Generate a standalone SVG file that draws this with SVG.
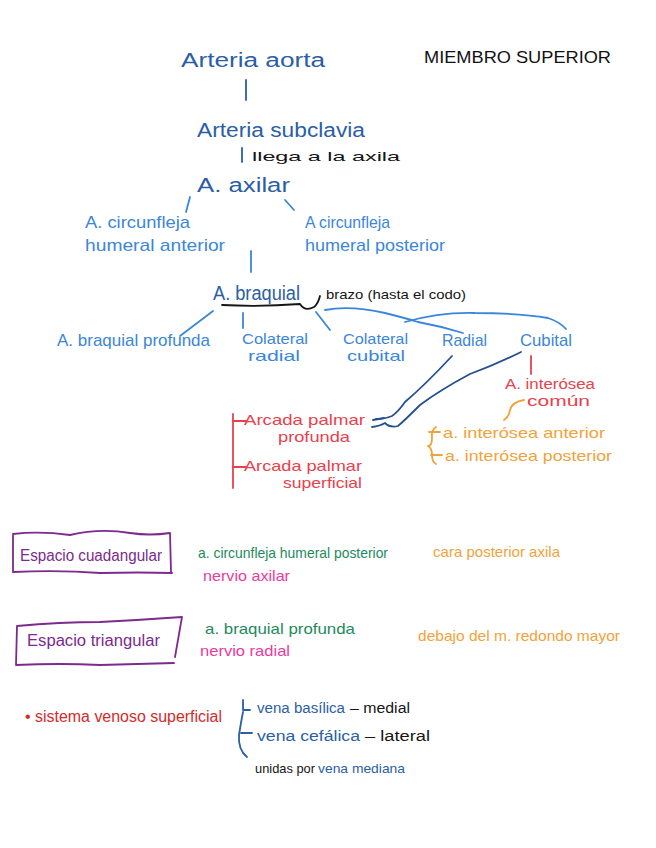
<svg xmlns="http://www.w3.org/2000/svg" width="656" height="848" viewBox="0 0 656 848">
<style>
text{font-family:"Liberation Sans","DejaVu Sans",sans-serif;}
.db{fill:#2b5ea6;font-size:20px;}
.bb{fill:#3a86dc;font-size:17px;}
.bs{fill:#3a86dc;font-size:15px;}
.bk{fill:#151515;font-size:13px;}
.rd{fill:#e8414c;font-size:15px;}
.rs{fill:#e8414c;font-size:14px;}
.or{fill:#f2a23a;font-size:15px;}
.gr{fill:#1d8a5c;font-size:15px;}
.mg{fill:#ec3aa0;font-size:15px;}
.pu{fill:#7d2a8e;font-size:16px;}
.ttl{fill:#111;font-size:17px;}
.l{fill:none;stroke-width:1.8;stroke-linecap:round;stroke-linejoin:round;}
.ldb{stroke:#2b5ea6;}
.lbb{stroke:#3a86dc;}
.lcon{stroke:#24508f;}
.lbk{stroke:#151515;}
.lrd{stroke:#e8414c;}
.lor{stroke:#f2a23a;}
.lpu{stroke:#7d2a8e;}
</style>
<rect width="656" height="848" fill="#ffffff"/>
<text class="ttl" x="424" y="63" textLength="187" lengthAdjust="spacingAndGlyphs">MIEMBRO SUPERIOR</text>

<g id="connectors">
  <path class="l ldb" d="M246 80 L246 100"/>
  <path class="l ldb" d="M242 148 L242 162"/>
  <path class="l lbb" d="M190 197 L186 212"/>
  <path class="l lbb" d="M285 200 L294 210"/>
  <path class="l lbb" d="M251 251 L251 272"/>
  <path class="l lbk" d="M222 305 Q260 307 300 304 Q305 312 314 307 Q318 304 320 296"/>
  <path class="l lbb" d="M213 311 L180 336"/>
  <path class="l lbb" d="M243 313 L243 328"/>
  <path class="l lbb" d="M316 312 L330 330"/>
  <path class="l lbb" d="M325 310 Q350 305 385 313 Q405 318 418 322 Q440 326 463 333"/>
  <path class="l lbb" d="M405 322 Q440 312 475 313 Q520 313 548 318 Q560 322 566 329"/>
  <path class="l lcon" d="M452 356 Q425 385 405 402 Q398 412 392 416 Q385 419 376 419"/>
  <path class="l lcon" d="M521 352 Q495 365 470 374 Q440 390 420 405 Q405 420 398 426 Q390 428 385 423 Q380 426 372 427"/>
  <path class="l lcon" d="M373 420 L384 418"/>
  <path class="l lrd" d="M531 356 L531 374"/>
  <path class="l lor" d="M524 400 Q512 402 510 410 Q509 417 504 420"/>
  <path class="l lor" d="M436 427 Q431 430 432 438 Q432 446 428 446 Q432 448 432 455 Q432 462 436 464"/>
  <path class="l lor" d="M429 432 L440 432"/>
  <path class="l lor" d="M431 455 L442 455"/>
  <path class="l lrd" d="M233 414 L233 488"/>
  <path class="l lrd" d="M233 421 L246 421"/>
  <path class="l lrd" d="M233 467 L246 467"/>
  <path class="l ldb" d="M243 700 L243 710 L250 710"/>
  <path class="l ldb" d="M243 712 Q241 722 239 735 Q238 750 247 757"/>
  <path class="l ldb" d="M241 733 L252 733"/>
</g>

<g id="aorta"><text class="db" x="181" y="67" textLength="144" lengthAdjust="spacingAndGlyphs">Arteria aorta</text></g>
<g id="subclavia"><text class="db" x="197" y="137" textLength="168" lengthAdjust="spacingAndGlyphs">Arteria subclavia</text>
<text class="bk" x="252" y="161" textLength="148" lengthAdjust="spacingAndGlyphs">llega a la axila</text></g>
<g id="axilar"><text class="db" x="197" y="192" textLength="93" lengthAdjust="spacingAndGlyphs">A. axilar</text></g>
<g id="circ-anterior"><text class="bb" x="85" y="228" textLength="105" lengthAdjust="spacingAndGlyphs">A. circunfleja</text>
<text class="bb" x="85" y="251" textLength="140" lengthAdjust="spacingAndGlyphs">humeral anterior</text></g>
<g id="circ-posterior"><text class="bb" x="305" y="228" textLength="85" lengthAdjust="spacingAndGlyphs">A circunfleja</text>
<text class="bb" x="305" y="251" textLength="140" lengthAdjust="spacingAndGlyphs">humeral posterior</text></g>
<g id="braquial"><text class="db" x="213" y="300" textLength="87" lengthAdjust="spacingAndGlyphs">A. braquial</text>
<text class="bk" x="326" y="299" textLength="140" lengthAdjust="spacingAndGlyphs">brazo (hasta el codo)</text></g>
<g id="braquial-profunda"><text class="bb" x="57" y="346" textLength="153" lengthAdjust="spacingAndGlyphs">A. braquial profunda</text></g>
<g id="colateral-radial"><text class="bs" x="242" y="344" textLength="66" lengthAdjust="spacingAndGlyphs">Colateral</text>
<text class="bs" x="248" y="361" textLength="52" lengthAdjust="spacingAndGlyphs">radial</text></g>
<g id="colateral-cubital"><text class="bs" x="343" y="344" textLength="65" lengthAdjust="spacingAndGlyphs">Colateral</text>
<text class="bs" x="347" y="361" textLength="58" lengthAdjust="spacingAndGlyphs">cubital</text></g>
<g id="radial"><text class="bb" x="442" y="346" textLength="45" lengthAdjust="spacingAndGlyphs">Radial</text></g>
<g id="cubital"><text class="bb" x="520" y="346" textLength="52" lengthAdjust="spacingAndGlyphs">Cubital</text></g>
<g id="interosea-comun"><text class="rs" x="505" y="389" textLength="90" lengthAdjust="spacingAndGlyphs">A. interósea</text>
<text class="rs" x="527" y="406" textLength="63" lengthAdjust="spacingAndGlyphs">común</text></g>
<g id="interosea-ramas"><text class="or" x="443" y="438" textLength="162" lengthAdjust="spacingAndGlyphs">a. interósea anterior</text>
<text class="or" x="445" y="461" textLength="167" lengthAdjust="spacingAndGlyphs">a. interósea posterior</text></g>
<g id="arcada-profunda"><text class="rd" x="244" y="425" textLength="121" lengthAdjust="spacingAndGlyphs">Arcada palmar</text>
<text class="rd" x="278" y="442" textLength="72" lengthAdjust="spacingAndGlyphs">profunda</text></g>
<g id="arcada-superficial"><text class="rd" x="244" y="471" textLength="118" lengthAdjust="spacingAndGlyphs">Arcada palmar</text>
<text class="rd" x="283" y="488" textLength="79" lengthAdjust="spacingAndGlyphs">superficial</text></g>

<g id="espacio-cuadangular">
<path class="l lpu" d="M13 534 Q40 531 70 535 Q100 528 130 533 Q150 536 170 533 L171 572 M13 534 L13 572 Q60 570 100 573 Q140 572 172 573"/>
<text class="pu" x="20" y="561" textLength="142" lengthAdjust="spacingAndGlyphs">Espacio cuadangular</text>
<text class="gr" x="198" y="558" textLength="190" lengthAdjust="spacingAndGlyphs">a. circunfleja humeral posterior</text>
<text class="mg" x="203" y="581" textLength="87" lengthAdjust="spacingAndGlyphs">nervio axilar</text>
<text class="or" x="433" y="557" textLength="127" lengthAdjust="spacingAndGlyphs">cara posterior axila</text>
</g>
<g id="espacio-triangular">
<path class="l lpu" d="M17 626 Q60 622 100 622 Q140 620 182 617 L175 657 M17 626 L16 665 Q60 663 100 665 Q140 664 174 663"/>
<text class="pu" x="27" y="646" textLength="133" lengthAdjust="spacingAndGlyphs">Espacio triangular</text>
<text class="gr" x="205" y="634" textLength="150" lengthAdjust="spacingAndGlyphs">a. braquial profunda</text>
<text class="mg" x="200" y="656" textLength="90" lengthAdjust="spacingAndGlyphs">nervio radial</text>
<text class="or" x="418" y="641" textLength="202" lengthAdjust="spacingAndGlyphs">debajo del m. redondo mayor</text>
</g>
<g id="venoso">
<text x="25" y="722" style="fill:#d42a2a;font-size:16px" textLength="197" lengthAdjust="spacingAndGlyphs">• sistema venoso superficial</text>
<text x="257" y="713" style="fill:#2b5ea6;font-size:14px" textLength="88" lengthAdjust="spacingAndGlyphs">vena basílica</text>
<text class="bk" x="350" y="713" style="font-size:14px" textLength="60" lengthAdjust="spacingAndGlyphs">– medial</text>
<text x="257" y="741" style="fill:#2b5ea6;font-size:14px" textLength="103" lengthAdjust="spacingAndGlyphs">vena cefálica</text>
<text class="bk" x="365" y="741" style="font-size:14px" textLength="65" lengthAdjust="spacingAndGlyphs">– lateral</text>
<text class="bk" x="255" y="773" textLength="60" lengthAdjust="spacingAndGlyphs">unidas por</text>
<text x="318" y="773" style="fill:#2b5ea6;font-size:13px" textLength="87" lengthAdjust="spacingAndGlyphs">vena mediana</text>
</g>
</svg>
